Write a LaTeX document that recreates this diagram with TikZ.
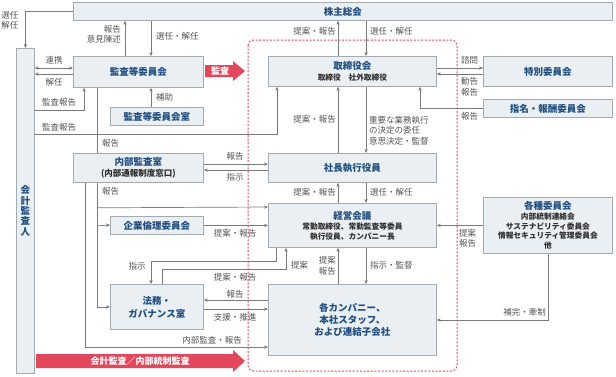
\documentclass[tikz,border=0pt]{standalone}
\usepackage{fontspec}
\setmainfont{Noto Sans CJK JP}
\usetikzlibrary{arrows.meta,calc}
\definecolor{boxfill}{HTML}{E9EFF3}
\definecolor{boxline}{HTML}{A3ABB0}
\definecolor{titleblue}{HTML}{1F4E80}
\definecolor{subtext}{HTML}{2E2E2E}
\definecolor{lblgray}{HTML}{555555}
\definecolor{linegray}{HTML}{7A7A7A}
\definecolor{redarr}{HTML}{E2475B}
\begin{document}
\begin{tikzpicture}[x=1pt,y=-1pt,
  >={Stealth[length=4pt,width=3.4pt]},
  box/.style={draw=boxline, fill=boxfill, line width=0.8pt, anchor=north west, inner sep=0pt, align=center, text=titleblue, font=\fontsize{9.5}{11.5}\selectfont\bfseries},
  subf/.style={},
  lbl/.style={text=lblgray, font=\fontsize{8.5}{10.5}\selectfont, inner sep=0pt},
  conn/.style={draw=linegray, line width=0.7pt, ->},
  bothconn/.style={draw=linegray, line width=0.7pt, <->},
  plainline/.style={draw=linegray, line width=0.7pt},
  redtext/.style={text=white, font=\fontsize{9}{11}\selectfont\bfseries, inner sep=0pt}
]
\newcommand{\subtx}[1]{{\fontsize{7.7}{11}\selectfont\color{subtext}#1}}
\useasboundingbox (0,0) rectangle (616,376);
\fill[white] (0,0) rectangle (616,376);

% red dashed scope
\draw[redarr, line width=1pt, dash pattern=on 2pt off 1.6pt, rounded corners=5pt] (248,40) rectangle (457,371);

% boxes
\node[box, minimum width=539, minimum height=18] (kab) at (73,2) {株主総会};
\node[box, minimum width=18, minimum height=325, font=\fontsize{9.5}{10.3}\selectfont\bfseries] (kaikei) at (16,48) {会\\計\\監\\査\\人};
\node[box, minimum width=130, minimum height=31] (kansa) at (73,56) {監査等委員会};
\node[box, minimum width=93, minimum height=18] (kansashitsu) at (110,107) {監査等委員会室};
\node[box, minimum width=168, minimum height=30] (tori) at (268,56) {取締役会\\[-1pt]\subtx{取締役　社外取締役}};
\node[box, minimum width=129, minimum height=30] (tokubetsu) at (483,56) {特別委員会};
\node[box, minimum width=129, minimum height=18] (shimei) at (483,99) {指名・報酬委員会};
\node[box, minimum width=130, minimum height=29] (naibu) at (73,153) {内部監査室\\[-1pt]{\fontsize{8.5}{11}\selectfont\color{subtext}(内部通報制度窓口)}};
\node[box, minimum width=168, minimum height=29] (shacho) at (268,153) {社長執行役員};
\node[box, minimum width=93, minimum height=18] (rinri) at (110,216) {企業倫理委員会};
\node[box, minimum width=168, minimum height=44] (keiei) at (268,203) {経営会議\\[-1pt]\subtx{常勤取締役、常勤監査等委員}\\[-2pt]\subtx{執行役員、カンパニー長}};
\node[box, minimum width=129, minimum height=56] (kakushu) at (483,197) {各種委員会\\[-1.5pt]\subtx{内部統制連絡会}\\[-2pt]\subtx{サステナビリティ委員会}\\[-2pt]\subtx{情報セキュリティ管理委員会}\\[-2pt]\subtx{他}};
\node[box, minimum width=93, minimum height=45, font=\fontsize{9.5}{13}\selectfont\bfseries] (homu) at (110,284) {法務・\\ガバナンス室};
\node[box, minimum width=168, minimum height=71, font=\fontsize{9.5}{12}\selectfont\bfseries] (company) at (268,284) {各カンパニー、\\本社スタッフ、\\および連結子会社};

% red arrows
\fill[redarr] (205,65) -- (233,65) -- (233,61) -- (245,71) -- (233,81) -- (233,77) -- (205,77) -- cycle;
\node[redtext] (kansaarrow) at (220,71) {監査};
\fill[redarr] (36,354) -- (233,354) -- (233,350) -- (245,361) -- (233,372) -- (233,368) -- (36,368) -- cycle;
\node[redtext] (gaibuarrow) at (140,361) {会計監査／内部統制監査};

% connectors
\draw[conn] (kab.west) -| (kaikei.north);
\draw[conn] ($(kansa.north west)+(52,0)$) -- ($(kab.south west)+(52,0)$);
\draw[conn] ($(kab.south west)+(78,0)$) -- ($(kansa.north west)+(78,0)$);
\draw[bothconn] ($(kaikei.north east)+(0,20)$) -- ($(kansa.north west)+(0,12)$);
\draw[conn] ($(kansa.north west)+(0,18)$) -- ($(kaikei.north east)+(0,26)$);
\draw[conn] ($(kaikei.north east)+(0,62)$) -| ($(kansa.south west)+(11,0)$);
\draw[conn] ($(kaikei.north east)+(0,86)$) -| ($(tori.south west)+(9,0)$);
\draw[conn] ($(kansashitsu.north west)+(41,0)$) -- ($(kansa.south west)+(78,0)$);
\draw[plainline] ($(kansa.south west)+(24,0)$) -- ($(naibu.north west)+(24,0)$);
\draw[conn] ($(naibu.south west)+(24,0)$) |- ($(homu.north west)+(0,23)$);
\draw[conn] ($(naibu.south west)+(24,25)$) -- ($(keiei.north west)+(0,4)$);
\draw[conn] ($(naibu.south west)+(24,43)$) -- ($(rinri.north west)+(0,9)$);
\draw[conn] ($(naibu.south west)+(12,0)$) |- ($(company.north west)+(0,63)$);
\draw[conn] ($(naibu.north east)+(0,11)$) -- ($(shacho.north west)+(0,11)$);
\draw[conn] ($(shacho.north west)+(0,17)$) -- ($(naibu.north east)+(0,17)$);
\draw[conn] (rinri.east) -- (rinri.east -| keiei.west);
\draw[conn] ($(keiei.south west)+(8,0)$) -- ($(keiei.south west)+(8,14)$) -| ($(homu.north west)+(41,0)$);
\draw[conn] ($(homu.north west)+(52,0)$) -- ($(homu.north west)+(52,-15)$) -| ($(keiei.south west)+(18,0)$);
\draw[conn] ($(company.north west)+(70,0)$) -- ($(keiei.south west)+(70,0)$);
\draw[conn] ($(keiei.south west)+(98,0)$) -- ($(company.north west)+(98,0)$);
\draw[conn] ($(company.north west)+(0,16)$) -- ($(homu.north east)+(0,16)$);
\draw[conn] ($(homu.north east)+(0,25)$) -- ($(company.north west)+(0,25)$);
\draw[conn] ($(tori.north west)+(70,0)$) -- ($(kab.south west)+(265,0)$);
\draw[conn] ($(kab.south west)+(293,0)$) -- ($(tori.north west)+(98,0)$);
\draw[conn] ($(tori.north east)+(0,12)$) -- ($(tokubetsu.north west)+(0,12)$);
\draw[conn] ($(tokubetsu.north west)+(0,18)$) -- ($(tori.north east)+(0,18)$);
\draw[conn] (shimei.west) -| ($(tori.south west)+(152,0)$);
\draw[conn] ($(tori.south west)+(98,0)$) -- ($(shacho.north west)+(98,0)$);
\draw[conn] ($(shacho.north west)+(70,0)$) -- ($(tori.south west)+(70,0)$);
\draw[conn] ($(keiei.north west)+(70,0)$) -- ($(shacho.south west)+(70,0)$);
\draw[conn] ($(shacho.south west)+(98,0)$) -- ($(keiei.north west)+(98,0)$);
\draw[conn] (kakushu.west) -- (kakushu.west -| keiei.east);
\draw[conn] ($(kakushu.south west)+(65,0)$) |- ($(company.north east)+(0,36)$);

% labels
\node[lbl, align=center] (l1) at (10,20.5) {選任\\解任};
\node[lbl, align=right, anchor=east] (l2) at (121,34.5) {報告\\意見陳述};
\node[lbl, anchor=west] (l3) at (156,36) {選任・解任};
\node[lbl] (l4) at (54,60) {連携};
\node[lbl] (l5) at (54,82) {解任};
\node[lbl] (l6) at (59,102) {監査報告};
\node[lbl] (l7) at (59,127) {監査報告};
\node[lbl, anchor=west] (l8) at (156,97) {補助};
\node[lbl, anchor=west] (l9) at (102,143) {報告};
\node[lbl, anchor=west] (l10) at (102,191) {報告};
\node[lbl] (l11) at (235,156) {報告};
\node[lbl] (l12) at (235,177) {指示};
\node[lbl] (l13) at (235,233) {提案・報告};
\node[lbl] (l14) at (137,266) {指示};
\node[lbl] (l15) at (235,277) {提案・報告};
\node[lbl] (l16) at (235,294) {報告};
\node[lbl] (l17) at (235,317) {支援・推進};
\node[lbl] (l18) at (212,340) {内部監査・報告};
\node[lbl, anchor=west] (l19) at (291,265) {提案};
\node[lbl, align=right, anchor=east] (l20) at (336,266) {提案\\報告};
\node[lbl, anchor=west] (l21) at (370,265) {指示・監督};
\node[lbl, anchor=east] (l22) at (336,31) {提案・報告};
\node[lbl, anchor=west] (l23) at (370,31) {選任・解任};
\node[lbl, anchor=east] (l24) at (336,119) {提案・報告};
\node[lbl, align=left, anchor=west] (l25) at (369,130.5) {重要な業務執行\\の決定の委任\\意思決定・監督};
\node[lbl, anchor=east] (l26) at (336,192) {提案・報告};
\node[lbl, anchor=west] (l27) at (370,192) {選任・解任};
\node[lbl, anchor=west] (l28) at (461,60) {諮問};
\node[lbl, align=left, anchor=west] (l29) at (461,87) {勧告\\報告};
\node[lbl, anchor=west] (l30) at (461,116) {報告};
\node[lbl, align=left, anchor=west] (l31) at (459,238.5) {提案\\報告};
\node[lbl, anchor=east] (l32) at (546,312) {補完・牽制};
\end{tikzpicture}
\end{document}
